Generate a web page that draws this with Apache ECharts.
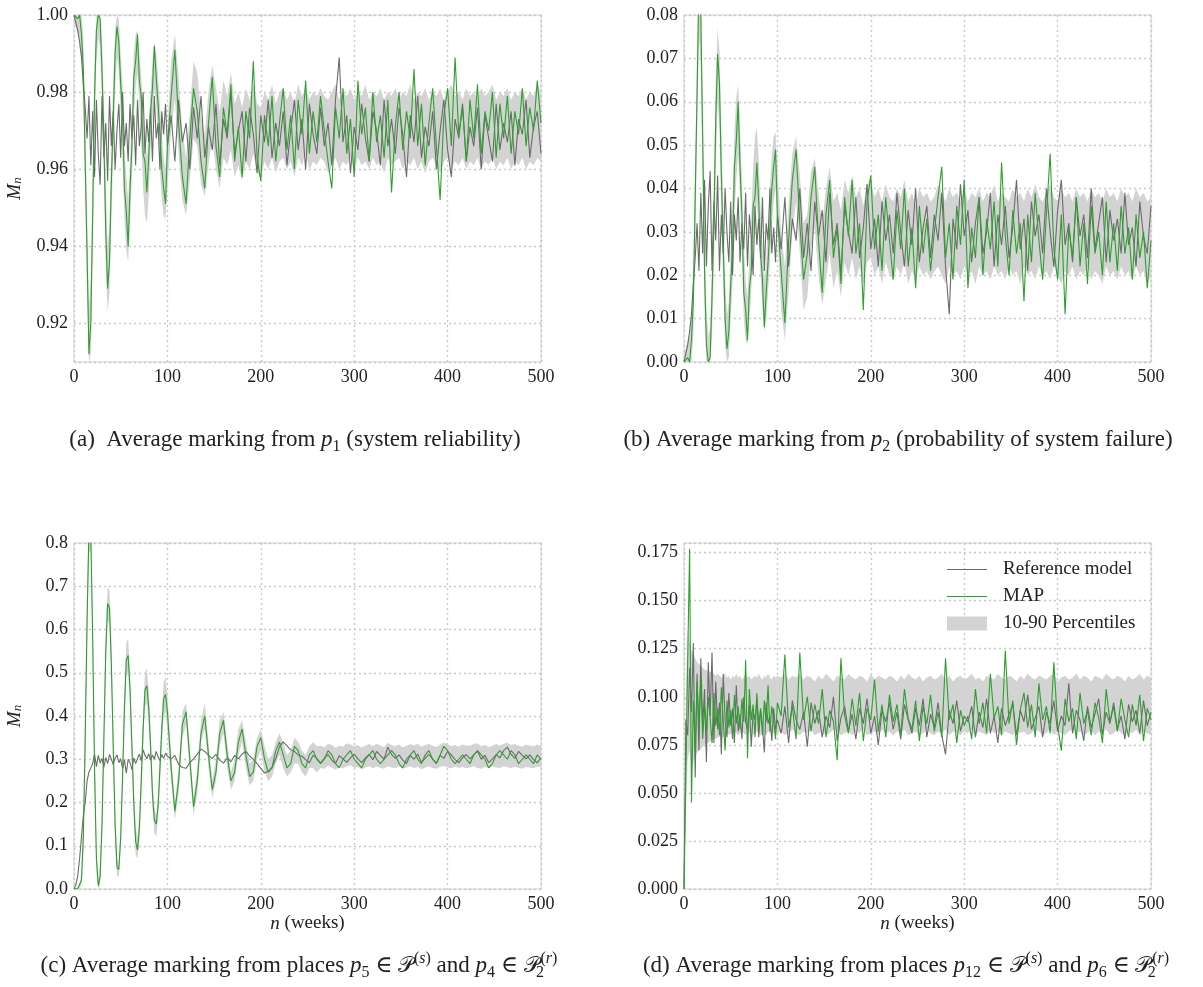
<!DOCTYPE html>
<html>
<head>
<meta charset="utf-8">
<script src="https://cdn.jsdelivr.net/npm/echarts@6/dist/echarts.min.js"></script>
<style>
  html, body { margin: 0; padding: 0; background: #fff; }
  #chart { width: 1203px; height: 987px; }
</style>
</head>
<body>
<div id="chart"></div>
<script>
// sample weeks (finer spacing where the early oscillation is)
var weeks = [
  0, 2, 4, 6, 8, 10, 12, 14, 16, 18,
  20, 22, 24, 26, 28, 30, 32, 34, 36, 38,
  40, 42, 44, 46, 48, 50, 52, 54, 56, 58,
  60, 62, 64, 66, 68, 70, 72, 74, 76, 78,
  80, 82, 84, 86, 88, 90, 92, 94, 96, 98,
  100,
  104, 108, 112, 116, 120, 124, 128, 132, 136, 140,
  144, 148, 152, 156, 160, 164, 168, 172, 176, 180,
  184, 188, 192, 196, 200, 204, 208, 212, 216, 220,
  224, 228, 232, 236, 240, 244, 248, 252, 256, 260,
  264, 268, 272, 276, 280, 284, 288, 292, 296, 300,
  304, 308, 312, 316, 320, 324, 328, 332, 336, 340,
  344, 348, 352, 356, 360, 364, 368, 372, 376, 380,
  384, 388, 392, 396, 400, 404, 408, 412, 416, 420,
  424, 428, 432, 436, 440, 444, 448, 452, 456, 460,
  464, 468, 472, 476, 480, 484, 488, 492, 496, 500
];

// (a) p1, system reliability
var aRef = [
  1.000, 0.998, 0.996, 0.993, 0.989, 0.982, 0.976, 0.968, 0.979, 0.961,
  0.975, 0.958, 0.978, 0.964, 0.956, 0.979, 0.963, 0.972, 0.957, 0.979,
  0.966, 0.975, 0.960, 0.970, 0.977, 0.963, 0.980, 0.966, 0.972, 0.962,
  0.977, 0.968, 0.974, 0.961, 0.978, 0.966, 0.971, 0.980, 0.964, 0.973,
  0.967, 0.976, 0.962, 0.979, 0.968, 0.972, 0.960, 0.975, 0.969, 0.977,
  0.966,
  0.974, 0.962, 0.978, 0.967, 0.972, 0.960, 0.976, 0.968, 0.979, 0.963,
  0.971, 0.965, 0.977, 0.961, 0.973, 0.968, 0.980, 0.964, 0.970, 0.975,
  0.962, 0.976, 0.969, 0.959, 0.974, 0.967, 0.978, 0.963, 0.972, 0.966,
  0.975, 0.961, 0.970, 0.978, 0.965, 0.973, 0.960, 0.977, 0.969, 0.964,
  0.976, 0.966, 0.972, 0.961, 0.978, 0.989, 0.967, 0.974, 0.959, 0.971,
  0.965, 0.977, 0.968, 0.962, 0.975, 0.970, 0.961, 0.978, 0.966, 0.973,
  0.964, 0.976, 0.969, 0.958, 0.974, 0.967, 0.979, 0.963, 0.971, 0.966,
  0.975, 0.960, 0.970, 0.978, 0.965, 0.958, 0.973, 0.968, 0.977, 0.962,
  0.971, 0.966, 0.976, 0.960, 0.974, 0.968, 0.962, 0.977, 0.965, 0.972,
  0.967, 0.975, 0.961, 0.973, 0.969, 0.978, 0.963, 0.971, 0.975, 0.964
];
var aMap = [
  1.000, 1.000, 0.999, 1.000, 0.995, 0.986, 0.962, 0.938, 0.912, 0.920,
  0.948, 0.979, 0.996, 1.000, 0.999, 0.985, 0.968, 0.944, 0.929, 0.936,
  0.957, 0.973, 0.990, 0.997, 0.993, 0.982, 0.974, 0.955, 0.949, 0.940,
  0.955, 0.966, 0.984, 0.988, 0.995, 0.983, 0.979, 0.964, 0.962, 0.954,
  0.963, 0.975, 0.981, 0.992, 0.984, 0.977, 0.969, 0.960, 0.955, 0.951,
  0.966,
  0.979, 0.991, 0.972, 0.958, 0.951, 0.968, 0.981, 0.975, 0.962, 0.955,
  0.972, 0.984, 0.966, 0.958, 0.976, 0.969, 0.982, 0.962, 0.971, 0.958,
  0.975, 0.968, 0.988, 0.963, 0.957, 0.974, 0.966, 0.979, 0.962, 0.972,
  0.981, 0.965, 0.974, 0.960, 0.978, 0.969, 0.983, 0.964, 0.975, 0.967,
  0.979, 0.970, 0.962, 0.955, 0.976, 0.968, 0.981, 0.964, 0.973, 0.958,
  0.983, 0.969, 0.976, 0.962, 0.980, 0.967, 0.974, 0.963, 0.978, 0.954,
  0.971, 0.980, 0.965, 0.975, 0.968, 0.986, 0.966, 0.977, 0.961, 0.972,
  0.981, 0.966, 0.952, 0.974, 0.981, 0.966, 0.989, 0.969, 0.976, 0.962,
  0.978, 0.968, 0.982, 0.964, 0.975, 0.970, 0.980, 0.963, 0.977, 0.968,
  0.979, 0.964, 0.975, 0.969, 0.981, 0.966, 0.976, 0.970, 0.983, 0.972
];
var aLo = [
  0.998, 0.997, 0.995, 0.994, 0.988, 0.977, 0.953, 0.928, 0.910, 0.912,
  0.938, 0.969, 0.988, 0.994, 0.992, 0.977, 0.958, 0.935, 0.923, 0.928,
  0.947, 0.964, 0.981, 0.989, 0.986, 0.974, 0.962, 0.947, 0.939, 0.936,
  0.946, 0.958, 0.973, 0.981, 0.985, 0.976, 0.967, 0.955, 0.948, 0.946,
  0.953, 0.965, 0.973, 0.981, 0.977, 0.968, 0.960, 0.952, 0.948, 0.947,
  0.955,
  0.970, 0.978, 0.964, 0.952, 0.948, 0.957, 0.968, 0.966, 0.956, 0.953,
  0.961, 0.968, 0.960, 0.955, 0.963, 0.961, 0.965, 0.958, 0.961, 0.957,
  0.962, 0.960, 0.964, 0.959, 0.958, 0.962, 0.960, 0.963, 0.959, 0.962,
  0.963, 0.960, 0.962, 0.958, 0.963, 0.961, 0.964, 0.960, 0.962, 0.961,
  0.963, 0.962, 0.959, 0.961, 0.963, 0.960, 0.962, 0.961, 0.963, 0.960,
  0.963, 0.961, 0.962, 0.960, 0.963, 0.961, 0.962, 0.959, 0.963, 0.961,
  0.962, 0.963, 0.960, 0.962, 0.961, 0.963, 0.960, 0.962, 0.959, 0.962,
  0.963, 0.961, 0.959, 0.962, 0.963, 0.960, 0.962, 0.961, 0.963, 0.960,
  0.962, 0.961, 0.963, 0.960, 0.962, 0.961, 0.963, 0.960, 0.962, 0.961,
  0.963, 0.960, 0.962, 0.961, 0.963, 0.960, 0.962, 0.961, 0.963, 0.962
];
var aHi = [
  1.000, 1.000, 1.000, 1.000, 1.000, 0.994, 0.973, 0.948, 0.925, 0.932,
  0.960, 0.988, 1.000, 1.000, 1.000, 0.994, 0.978, 0.956, 0.940, 0.946,
  0.966, 0.983, 0.996, 1.000, 0.999, 0.990, 0.982, 0.966, 0.958, 0.952,
  0.962, 0.975, 0.990, 0.995, 0.996, 0.990, 0.984, 0.974, 0.969, 0.963,
  0.970, 0.980, 0.988, 0.993, 0.990, 0.984, 0.977, 0.969, 0.963, 0.960,
  0.970,
  0.988, 0.995, 0.984, 0.970, 0.963, 0.975, 0.988, 0.985, 0.974, 0.969,
  0.980, 0.987, 0.981, 0.975, 0.983, 0.979, 0.985, 0.977, 0.980, 0.976,
  0.981, 0.978, 0.982, 0.977, 0.976, 0.980, 0.978, 0.982, 0.977, 0.980,
  0.981, 0.978, 0.980, 0.977, 0.982, 0.979, 0.981, 0.978, 0.980, 0.979,
  0.981, 0.979, 0.978, 0.980, 0.982, 0.978, 0.980, 0.979, 0.981, 0.978,
  0.980, 0.979, 0.982, 0.978, 0.980, 0.979, 0.981, 0.978, 0.980, 0.979,
  0.981, 0.978, 0.980, 0.979, 0.982, 0.978, 0.980, 0.979, 0.981, 0.978,
  0.980, 0.979, 0.981, 0.978, 0.980, 0.982, 0.979, 0.980, 0.978, 0.981,
  0.979, 0.980, 0.978, 0.981, 0.979, 0.980, 0.982, 0.978, 0.980, 0.979,
  0.981, 0.978, 0.980, 0.979, 0.981, 0.978, 0.980, 0.979, 0.982, 0.980
];

// (b) p2, probability of system failure
var bRef = [
  0.000, 0.002, 0.004, 0.007, 0.011, 0.018, 0.024, 0.032, 0.021, 0.039,
  0.025, 0.042, 0.022, 0.036, 0.044, 0.021, 0.037, 0.028, 0.043, 0.021,
  0.034, 0.025, 0.040, 0.030, 0.023, 0.037, 0.020, 0.034, 0.028, 0.038,
  0.023, 0.032, 0.026, 0.039, 0.022, 0.034, 0.029, 0.020, 0.036, 0.027,
  0.033, 0.024, 0.038, 0.021, 0.032, 0.028, 0.040, 0.025, 0.031, 0.023,
  0.034,
  0.026, 0.038, 0.022, 0.033, 0.028, 0.040, 0.024, 0.032, 0.021, 0.037,
  0.029, 0.035, 0.023, 0.039, 0.027, 0.032, 0.020, 0.036, 0.030, 0.025,
  0.038, 0.024, 0.031, 0.041, 0.026, 0.033, 0.022, 0.037, 0.028, 0.034,
  0.025, 0.039, 0.030, 0.022, 0.035, 0.027, 0.040, 0.023, 0.031, 0.036,
  0.024, 0.034, 0.028, 0.039, 0.022, 0.011, 0.033, 0.026, 0.041, 0.029,
  0.035, 0.023, 0.032, 0.038, 0.025, 0.030, 0.039, 0.022, 0.034, 0.027,
  0.036, 0.024, 0.031, 0.042, 0.026, 0.033, 0.021, 0.037, 0.029, 0.034,
  0.025, 0.040, 0.030, 0.022, 0.035, 0.042, 0.027, 0.032, 0.023, 0.038,
  0.029, 0.034, 0.024, 0.040, 0.026, 0.032, 0.038, 0.023, 0.035, 0.028,
  0.033, 0.025, 0.039, 0.027, 0.031, 0.022, 0.037, 0.029, 0.025, 0.036
];
var bMap = [
  0.000, 0.000, 0.001, 0.000, 0.005, 0.014, 0.038, 0.062, 0.088, 0.080,
  0.052, 0.021, 0.004, 0.000, 0.001, 0.015, 0.032, 0.056, 0.071, 0.064,
  0.043, 0.027, 0.010, 0.003, 0.007, 0.018, 0.026, 0.045, 0.051, 0.060,
  0.045, 0.034, 0.016, 0.012, 0.005, 0.017, 0.021, 0.036, 0.038, 0.046,
  0.037, 0.025, 0.019, 0.008, 0.016, 0.023, 0.031, 0.040, 0.045, 0.049,
  0.034,
  0.021, 0.009, 0.028, 0.042, 0.049, 0.032, 0.019, 0.025, 0.038, 0.045,
  0.028, 0.016, 0.034, 0.042, 0.024, 0.031, 0.018, 0.038, 0.029, 0.042,
  0.025, 0.032, 0.012, 0.037, 0.043, 0.026, 0.034, 0.021, 0.038, 0.028,
  0.019, 0.035, 0.026, 0.040, 0.022, 0.031, 0.017, 0.036, 0.025, 0.033,
  0.021, 0.030, 0.038, 0.045, 0.024, 0.032, 0.019, 0.036, 0.027, 0.042,
  0.017, 0.031, 0.024, 0.038, 0.020, 0.033, 0.026, 0.037, 0.022, 0.046,
  0.029, 0.020, 0.035, 0.025, 0.032, 0.014, 0.034, 0.023, 0.039, 0.028,
  0.019, 0.034, 0.048, 0.026, 0.019, 0.034, 0.011, 0.031, 0.024, 0.038,
  0.022, 0.032, 0.018, 0.036, 0.025, 0.030, 0.020, 0.037, 0.023, 0.032,
  0.021, 0.036, 0.025, 0.031, 0.019, 0.034, 0.024, 0.030, 0.017, 0.028
];
var bLo = [
  0.000, 0.000, 0.000, 0.000, 0.000, 0.006, 0.027, 0.052, 0.075, 0.068,
  0.040, 0.012, 0.000, 0.000, 0.000, 0.006, 0.022, 0.044, 0.060, 0.054,
  0.034, 0.017, 0.004, 0.000, 0.001, 0.010, 0.018, 0.034, 0.042, 0.048,
  0.038, 0.025, 0.010, 0.005, 0.004, 0.010, 0.016, 0.026, 0.031, 0.037,
  0.030, 0.020, 0.012, 0.007, 0.010, 0.016, 0.023, 0.031, 0.037, 0.040,
  0.030,
  0.012, 0.005, 0.016, 0.030, 0.037, 0.025, 0.012, 0.015, 0.026, 0.031,
  0.020, 0.013, 0.019, 0.025, 0.017, 0.021, 0.015, 0.023, 0.020, 0.024,
  0.019, 0.022, 0.018, 0.023, 0.024, 0.020, 0.022, 0.018, 0.023, 0.020,
  0.019, 0.022, 0.020, 0.023, 0.018, 0.021, 0.019, 0.022, 0.020, 0.021,
  0.019, 0.021, 0.022, 0.020, 0.018, 0.022, 0.020, 0.021, 0.019, 0.022,
  0.020, 0.021, 0.018, 0.022, 0.020, 0.021, 0.019, 0.022, 0.020, 0.021,
  0.019, 0.022, 0.020, 0.021, 0.018, 0.022, 0.020, 0.021, 0.019, 0.022,
  0.020, 0.021, 0.019, 0.022, 0.020, 0.018, 0.021, 0.020, 0.022, 0.019,
  0.021, 0.020, 0.022, 0.019, 0.021, 0.020, 0.018, 0.022, 0.020, 0.021,
  0.019, 0.022, 0.020, 0.021, 0.019, 0.022, 0.020, 0.021, 0.018, 0.020
];
var bHi = [
  0.002, 0.003, 0.005, 0.006, 0.012, 0.023, 0.047, 0.072, 0.090, 0.088,
  0.062, 0.031, 0.012, 0.006, 0.008, 0.023, 0.042, 0.065, 0.077, 0.072,
  0.053, 0.036, 0.019, 0.011, 0.014, 0.026, 0.038, 0.053, 0.061, 0.064,
  0.054, 0.042, 0.027, 0.019, 0.015, 0.024, 0.033, 0.045, 0.052, 0.054,
  0.047, 0.035, 0.027, 0.019, 0.023, 0.032, 0.040, 0.048, 0.052, 0.053,
  0.045,
  0.030, 0.022, 0.036, 0.048, 0.052, 0.043, 0.032, 0.034, 0.044, 0.047,
  0.039, 0.032, 0.040, 0.045, 0.037, 0.039, 0.035, 0.042, 0.039, 0.043,
  0.038, 0.040, 0.036, 0.041, 0.042, 0.038, 0.040, 0.037, 0.041, 0.038,
  0.037, 0.040, 0.038, 0.042, 0.037, 0.039, 0.036, 0.040, 0.038, 0.039,
  0.037, 0.038, 0.041, 0.039, 0.037, 0.040, 0.038, 0.039, 0.037, 0.040,
  0.037, 0.039, 0.038, 0.040, 0.037, 0.039, 0.038, 0.041, 0.037, 0.039,
  0.038, 0.037, 0.040, 0.038, 0.039, 0.037, 0.040, 0.038, 0.041, 0.038,
  0.037, 0.039, 0.041, 0.038, 0.037, 0.040, 0.038, 0.039, 0.037, 0.040,
  0.038, 0.039, 0.037, 0.040, 0.038, 0.039, 0.037, 0.040, 0.038, 0.039,
  0.037, 0.040, 0.038, 0.039, 0.037, 0.040, 0.038, 0.039, 0.037, 0.038
];

// (c) places p5 and p4
var cRef = [
  0.000, 0.010, 0.030, 0.070, 0.120, 0.170, 0.200, 0.250, 0.270, 0.280,
  0.290, 0.312, 0.283, 0.309, 0.291, 0.302, 0.281, 0.304, 0.290, 0.311,
  0.300, 0.288, 0.303, 0.310, 0.292, 0.301, 0.279, 0.298, 0.268, 0.300,
  0.292, 0.276, 0.303, 0.290, 0.301, 0.312, 0.297, 0.322, 0.309, 0.301,
  0.313, 0.298, 0.310, 0.300, 0.318, 0.306, 0.297, 0.311, 0.302, 0.314,
  0.307,
  0.301, 0.309, 0.288, 0.281, 0.279, 0.292, 0.301, 0.312, 0.324, 0.318,
  0.309, 0.302, 0.311, 0.298, 0.291, 0.303, 0.294, 0.309, 0.301, 0.312,
  0.318, 0.308, 0.300, 0.290, 0.279, 0.268, 0.272, 0.281, 0.301, 0.329,
  0.340, 0.331, 0.322, 0.318, 0.310, 0.307, 0.299, 0.292, 0.309, 0.302,
  0.291, 0.302, 0.311, 0.298, 0.290, 0.308, 0.301, 0.293, 0.303, 0.312,
  0.301, 0.292, 0.303, 0.311, 0.299, 0.318, 0.309, 0.300, 0.328, 0.311,
  0.302, 0.310, 0.298, 0.290, 0.309, 0.300, 0.312, 0.293, 0.302, 0.311,
  0.300, 0.291, 0.309, 0.302, 0.318, 0.310, 0.299, 0.292, 0.303, 0.311,
  0.301, 0.310, 0.319, 0.300, 0.309, 0.292, 0.301, 0.311, 0.303, 0.320,
  0.328, 0.311, 0.302, 0.318, 0.309, 0.301, 0.310, 0.299, 0.292, 0.303
];
var cMap = [
  0.000, 0.000, 0.001, 0.003, 0.020, 0.120, 0.350, 0.620, 0.830, 0.820,
  0.580, 0.280, 0.070, 0.008, 0.030, 0.150, 0.350, 0.550, 0.660, 0.650,
  0.520, 0.330, 0.150, 0.050, 0.045, 0.120, 0.260, 0.420, 0.530, 0.540,
  0.460, 0.330, 0.200, 0.110, 0.090, 0.140, 0.250, 0.370, 0.460, 0.470,
  0.420, 0.330, 0.220, 0.160, 0.150, 0.190, 0.280, 0.370, 0.440, 0.450,
  0.410,
  0.280, 0.180, 0.250, 0.380, 0.410, 0.300, 0.190, 0.250, 0.360, 0.400,
  0.310, 0.230, 0.270, 0.360, 0.390, 0.310, 0.250, 0.270, 0.340, 0.370,
  0.310, 0.260, 0.270, 0.330, 0.350, 0.300, 0.270, 0.280, 0.320, 0.340,
  0.310, 0.280, 0.290, 0.330, 0.320, 0.290, 0.280, 0.310, 0.320, 0.300,
  0.290, 0.300, 0.320, 0.310, 0.290, 0.280, 0.300, 0.310, 0.320, 0.300,
  0.290, 0.280, 0.300, 0.310, 0.320, 0.300, 0.290, 0.300, 0.310, 0.320,
  0.310, 0.290, 0.280, 0.300, 0.310, 0.320, 0.300, 0.290, 0.310, 0.320,
  0.300, 0.290, 0.310, 0.330, 0.320, 0.300, 0.290, 0.300, 0.310, 0.300,
  0.290, 0.310, 0.320, 0.310, 0.300, 0.280, 0.290, 0.310, 0.320, 0.310,
  0.300, 0.320, 0.310, 0.290, 0.300, 0.310, 0.300, 0.290, 0.310, 0.300
];
var cLo = [
  0.000, 0.000, 0.000, 0.001, 0.010, 0.080, 0.280, 0.550, 0.780, 0.780,
  0.520, 0.220, 0.040, 0.000, 0.010, 0.110, 0.300, 0.500, 0.620, 0.610,
  0.470, 0.280, 0.110, 0.030, 0.030, 0.090, 0.220, 0.370, 0.490, 0.500,
  0.420, 0.290, 0.160, 0.080, 0.070, 0.110, 0.210, 0.330, 0.420, 0.430,
  0.380, 0.290, 0.190, 0.130, 0.120, 0.160, 0.240, 0.330, 0.400, 0.410,
  0.370,
  0.250, 0.160, 0.220, 0.350, 0.380, 0.270, 0.170, 0.220, 0.340, 0.370,
  0.280, 0.210, 0.250, 0.330, 0.360, 0.280, 0.230, 0.250, 0.310, 0.340,
  0.280, 0.240, 0.250, 0.300, 0.320, 0.270, 0.250, 0.260, 0.290, 0.310,
  0.280, 0.260, 0.270, 0.290, 0.290, 0.270, 0.260, 0.280, 0.280, 0.270,
  0.280, 0.278, 0.285, 0.281, 0.276, 0.282, 0.279, 0.283, 0.286, 0.280,
  0.282, 0.277, 0.281, 0.284, 0.279, 0.283, 0.280, 0.278, 0.284, 0.281,
  0.279, 0.283, 0.278, 0.281, 0.284, 0.280, 0.282, 0.277, 0.281, 0.283,
  0.280, 0.278, 0.282, 0.285, 0.281, 0.279, 0.283, 0.280, 0.282, 0.279,
  0.281, 0.284, 0.280, 0.278, 0.282, 0.279, 0.283, 0.281, 0.280, 0.284,
  0.282, 0.279, 0.283, 0.280, 0.278, 0.282, 0.281, 0.279, 0.283, 0.281
];
var cHi = [
  0.000, 0.001, 0.003, 0.008, 0.040, 0.170, 0.420, 0.690, 0.880, 0.880,
  0.640, 0.340, 0.100, 0.020, 0.060, 0.190, 0.400, 0.600, 0.700, 0.690,
  0.570, 0.380, 0.190, 0.070, 0.060, 0.150, 0.300, 0.460, 0.570, 0.580,
  0.500, 0.370, 0.240, 0.140, 0.120, 0.170, 0.290, 0.410, 0.500, 0.510,
  0.460, 0.370, 0.260, 0.190, 0.170, 0.220, 0.310, 0.410, 0.480, 0.490,
  0.450,
  0.310, 0.200, 0.280, 0.410, 0.430, 0.330, 0.210, 0.280, 0.390, 0.430,
  0.340, 0.250, 0.300, 0.390, 0.410, 0.340, 0.270, 0.300, 0.370, 0.390,
  0.340, 0.290, 0.300, 0.350, 0.370, 0.330, 0.300, 0.310, 0.340, 0.360,
  0.340, 0.310, 0.320, 0.350, 0.340, 0.320, 0.310, 0.330, 0.340, 0.330,
  0.331, 0.328, 0.336, 0.333, 0.326, 0.332, 0.329, 0.337, 0.334, 0.330,
  0.333, 0.327, 0.331, 0.335, 0.330, 0.336, 0.332, 0.328, 0.338, 0.333,
  0.330, 0.334, 0.327, 0.331, 0.335, 0.332, 0.336, 0.329, 0.333, 0.335,
  0.331, 0.328, 0.334, 0.338, 0.335, 0.330, 0.333, 0.329, 0.334, 0.331,
  0.332, 0.335, 0.337, 0.330, 0.333, 0.328, 0.331, 0.335, 0.332, 0.336,
  0.338, 0.333, 0.335, 0.331, 0.329, 0.334, 0.332, 0.330, 0.334, 0.331
];

// (d) places p12 and p6
var dRef = [
  0.000, 0.088, 0.080, 0.115, 0.092, 0.128, 0.058, 0.112, 0.072, 0.120,
  0.085, 0.104, 0.066, 0.118, 0.090, 0.123, 0.076, 0.108, 0.083, 0.097,
  0.070, 0.112, 0.088, 0.079, 0.102, 0.085, 0.094, 0.076, 0.106, 0.082,
  0.091, 0.078, 0.100, 0.087, 0.083, 0.096, 0.074, 0.092, 0.088, 0.099,
  0.079, 0.093, 0.085, 0.071, 0.097, 0.086, 0.090, 0.077, 0.094, 0.083,
  0.088,
  0.081, 0.095, 0.076, 0.098, 0.088, 0.083, 0.092, 0.074, 0.097, 0.086,
  0.093, 0.079, 0.090, 0.084, 0.100, 0.077, 0.089, 0.095, 0.082, 0.091,
  0.078, 0.094, 0.086, 0.099, 0.081, 0.090, 0.075, 0.093, 0.087, 0.097,
  0.083, 0.092, 0.078, 0.096, 0.088, 0.081, 0.094, 0.085, 0.099, 0.079,
  0.091, 0.084, 0.097, 0.080, 0.070, 0.093, 0.086, 0.098, 0.082, 0.090,
  0.087, 0.095, 0.079, 0.092, 0.084, 0.099, 0.081, 0.090, 0.076, 0.094,
  0.085, 0.091, 0.096, 0.080, 0.093, 0.087, 0.101, 0.083, 0.089, 0.095,
  0.079, 0.092, 0.086, 0.098, 0.082, 0.090, 0.085, 0.107, 0.081, 0.093,
  0.088, 0.077, 0.095, 0.084, 0.091, 0.099, 0.080, 0.092, 0.086, 0.097,
  0.083, 0.090, 0.078, 0.096, 0.087, 0.093, 0.081, 0.098, 0.085, 0.092
];
var dMap = [
  0.000, 0.060, 0.120, 0.177, 0.045, 0.098, 0.072, 0.108, 0.085, 0.110,
  0.078, 0.095, 0.082, 0.100, 0.089, 0.076, 0.102, 0.085, 0.094, 0.080,
  0.105, 0.088, 0.072, 0.098, 0.084, 0.093, 0.078, 0.101, 0.086, 0.095,
  0.083, 0.099, 0.087, 0.119, 0.068, 0.104, 0.088, 0.096, 0.079, 0.102,
  0.085, 0.094, 0.080, 0.098, 0.087, 0.106, 0.082, 0.095, 0.088, 0.078,
  0.097,
  0.090, 0.122, 0.084, 0.095, 0.078, 0.123, 0.088, 0.100, 0.082, 0.096,
  0.086, 0.104, 0.079, 0.093, 0.087, 0.067, 0.120, 0.090, 0.081, 0.099,
  0.085, 0.102, 0.077, 0.094, 0.088, 0.109, 0.082, 0.096, 0.079, 0.101,
  0.087, 0.096, 0.080, 0.104, 0.089, 0.083, 0.098, 0.077, 0.095, 0.086,
  0.101, 0.082, 0.092, 0.079, 0.120, 0.088, 0.096, 0.076, 0.093, 0.085,
  0.090, 0.078, 0.104, 0.086, 0.097, 0.081, 0.112, 0.089, 0.095, 0.080,
  0.124, 0.086, 0.098, 0.075, 0.093, 0.102, 0.084, 0.096, 0.079, 0.107,
  0.088, 0.095, 0.081, 0.118, 0.085, 0.072, 0.099, 0.087, 0.094, 0.078,
  0.102, 0.086, 0.093, 0.080, 0.097, 0.089, 0.076, 0.104, 0.087, 0.095,
  0.082, 0.099, 0.088, 0.079, 0.096, 0.085, 0.101, 0.077, 0.094, 0.088
];
var dLo = [
  0.000, 0.040, 0.068, 0.072, 0.064, 0.066, 0.069, 0.071, 0.072, 0.073,
  0.074, 0.075, 0.076, 0.076, 0.077, 0.077, 0.078, 0.078, 0.079, 0.079,
  0.080, 0.079, 0.080, 0.081, 0.080, 0.081, 0.080, 0.082, 0.081, 0.080,
  0.081, 0.082, 0.081, 0.080, 0.082, 0.081, 0.082, 0.080, 0.081, 0.082,
  0.081, 0.080, 0.082, 0.081, 0.080, 0.082, 0.081, 0.083, 0.081, 0.082,
  0.081,
  0.082, 0.080, 0.081, 0.083, 0.081, 0.080, 0.082, 0.081, 0.083, 0.080,
  0.081, 0.082, 0.080, 0.081, 0.083, 0.082, 0.080, 0.081, 0.082, 0.080,
  0.082, 0.081, 0.083, 0.080, 0.081, 0.082, 0.080, 0.083, 0.081, 0.082,
  0.080, 0.082, 0.081, 0.083, 0.080, 0.081, 0.082, 0.080, 0.081, 0.083,
  0.081, 0.080, 0.082, 0.081, 0.083, 0.080, 0.082, 0.081, 0.080, 0.082,
  0.081, 0.083, 0.080, 0.082, 0.081, 0.080, 0.083, 0.081, 0.082, 0.080,
  0.082, 0.081, 0.080, 0.083, 0.081, 0.082, 0.080, 0.081, 0.083, 0.082,
  0.080, 0.081, 0.083, 0.080, 0.082, 0.081, 0.080, 0.082, 0.083, 0.081,
  0.082, 0.080, 0.081, 0.083, 0.080, 0.082, 0.081, 0.083, 0.080, 0.081,
  0.083, 0.081, 0.080, 0.082, 0.081, 0.083, 0.080, 0.082, 0.081, 0.080
];
var dHi = [
  0.000, 0.100, 0.135, 0.128, 0.124, 0.122, 0.120, 0.118, 0.117, 0.116,
  0.115, 0.114, 0.114, 0.113, 0.113, 0.112, 0.112, 0.111, 0.112, 0.111,
  0.110, 0.111, 0.112, 0.110, 0.111, 0.109, 0.111, 0.110, 0.112, 0.110,
  0.111, 0.109, 0.110, 0.112, 0.110, 0.111, 0.109, 0.110, 0.111, 0.110,
  0.112, 0.110, 0.109, 0.111, 0.110, 0.112, 0.110, 0.109, 0.111, 0.110,
  0.111,
  0.110, 0.112, 0.109, 0.111, 0.110, 0.112, 0.109, 0.111, 0.110, 0.108,
  0.111, 0.109, 0.112, 0.110, 0.108, 0.111, 0.110, 0.109, 0.112, 0.110,
  0.109, 0.111, 0.110, 0.108, 0.112, 0.109, 0.111, 0.110, 0.109, 0.111,
  0.110, 0.108, 0.111, 0.109, 0.112, 0.110, 0.109, 0.111, 0.108, 0.110,
  0.111, 0.109, 0.110, 0.112, 0.109, 0.111, 0.108, 0.110, 0.111, 0.109,
  0.110, 0.112, 0.109, 0.110, 0.108, 0.111, 0.110, 0.109, 0.112, 0.110,
  0.109, 0.111, 0.110, 0.108, 0.111, 0.109, 0.112, 0.110, 0.109, 0.111,
  0.110, 0.109, 0.111, 0.112, 0.108, 0.110, 0.111, 0.109, 0.110, 0.112,
  0.109, 0.111, 0.110, 0.108, 0.111, 0.110, 0.109, 0.112, 0.110, 0.109,
  0.111, 0.110, 0.108, 0.111, 0.109, 0.110, 0.112, 0.109, 0.111, 0.110
];

var SERIF = '"Liberation Serif", "DejaVu Serif", serif';
var GRAY = '#6b6b6b';
var GREEN = '#2ca02c';
var BAND = '#d3d3d3';
var LINE_ICON = 'path://M0,0H40V1.2H0Z';

var panels = [
  { ref: aRef, map: aMap, lo: aLo, hi: aHi, min: 0.91, max: 1.0, interval: null, digits: 2 },
  { ref: bRef, map: bMap, lo: bLo, hi: bHi, min: 0, max: 0.08, interval: 0.01, digits: 2 },
  { ref: cRef, map: cMap, lo: cLo, hi: cHi, min: 0, max: 0.8, interval: 0.1, digits: 1 },
  { ref: dRef, map: dMap, lo: dLo, hi: dHi, min: 0, max: 0.18, interval: 0.025, digits: 3 }
];

var grids = [
  { left: 74, top: 15, width: 467, height: 347 },
  { left: 684, top: 15, width: 467, height: 347 },
  { left: 74, top: 543, width: 467, height: 346 },
  { left: 684, top: 543, width: 467, height: 346 }
];

function pairs(vals) {
  return weeks.map(function (w, i) { return [w, vals[i]]; });
}

var dotted = { show: true, lineStyle: { color: '#c8c8c8', width: 1.4, type: [2, 3] } };
var rich = {
  i: { fontFamily: SERIF, fontStyle: 'italic', fontSize: 19, color: '#222' },
  s: { fontFamily: SERIF, fontStyle: 'italic', fontSize: 13, color: '#222', verticalAlign: 'bottom', lineHeight: 13 }
};

var xAxes = [], yAxes = [], series = [];
panels.forEach(function (p, k) {
  xAxes.push({
    type: 'value', gridIndex: k, min: 0, max: 500, interval: 100,
    axisLine: { show: false }, axisTick: { show: false },
    axisLabel: { fontFamily: SERIF, fontSize: 18, color: '#222', margin: 6 },
    splitLine: dotted,
    name: k >= 2 ? '{i|n} (weeks)' : '',
    nameLocation: 'middle', nameGap: 25,
    nameTextStyle: { fontFamily: SERIF, fontSize: 19, color: '#222', rich: rich }
  });
  var y = {
    type: 'value', gridIndex: k, min: p.min, max: p.max,
    axisLine: { show: false }, axisTick: { show: false },
    axisLabel: {
      fontFamily: SERIF, fontSize: 18, color: '#222', margin: 6,
      showMinLabel: k !== 0, showMaxLabel: k !== 3,
      formatter: function (v) { return v.toFixed(p.digits); }
    },
    splitLine: dotted,
    name: (k === 0 || k === 2) ? '{i|M}{s|n}' : '',
    nameLocation: 'middle', nameGap: 50, nameRotate: 90,
    nameTextStyle: { fontFamily: SERIF, fontSize: 19, color: '#222', rich: rich }
  };
  if (p.interval) y.interval = p.interval;
  yAxes.push(y);

  series.push({
    type: 'custom', name: '10-90 Percentiles', xAxisIndex: k, yAxisIndex: k,
    silent: true, z: 1, itemStyle: { color: BAND },
    data: [[weeks[0], p.lo[0]]],
    renderItem: function (params, api) {
      var top = [], bottom = [];
      for (var i = 0; i < weeks.length; i++) {
        top.push(api.coord([weeks[i], p.hi[i]]));
        bottom.push(api.coord([weeks[i], p.lo[i]]));
      }
      var cs = params.coordSys;
      return {
        type: 'polygon',
        shape: { points: top.concat(bottom.reverse()) },
        style: { fill: BAND },
        clipPath: { type: 'rect', shape: { x: cs.x, y: cs.y, width: cs.width, height: cs.height } }
      };
    }
  });
  series.push({
    type: 'line', name: 'Reference model', xAxisIndex: k, yAxisIndex: k,
    data: pairs(p.ref), showSymbol: false, symbol: 'none', z: 2,
    itemStyle: { color: GRAY }, lineStyle: { color: GRAY, width: 1.1 }
  });
  series.push({
    type: 'line', name: 'MAP', xAxisIndex: k, yAxisIndex: k,
    data: pairs(p.map), showSymbol: false, symbol: 'none', z: 3,
    itemStyle: { color: GREEN }, lineStyle: { color: GREEN, width: 1.1 }
  });
});

// captions under each panel
var capRich = {
  i: { fontFamily: SERIF, fontStyle: 'italic', fontSize: 23, color: '#222', lineHeight: 30 },
  sub: { fontFamily: SERIF, fontSize: 16, color: '#222', verticalAlign: 'bottom', lineHeight: 16 },
  subz: { fontFamily: SERIF, fontSize: 16, color: '#222', verticalAlign: 'bottom', lineHeight: 16, width: 1 },
  sup: { fontFamily: SERIF, fontSize: 16, color: '#222', verticalAlign: 'top', lineHeight: 16 },
  supi: { fontFamily: SERIF, fontStyle: 'italic', fontSize: 16, color: '#222', verticalAlign: 'top', lineHeight: 16 },
  cal: { fontFamily: '"DejaVu Sans", "Noto Sans", serif', fontSize: 22, color: '#222', lineHeight: 30 }
};
function caption(x, y, text) {
  return {
    type: 'text', x: x, y: y, silent: true,
    style: {
      text: text, rich: capRich, fill: '#222',
      font: '23px ' + SERIF, fontFamily: SERIF, fontSize: 23, lineHeight: 30,
      align: 'center', verticalAlign: 'middle', textAlign: 'center', textVerticalAlign: 'middle'
    }
  };
}

var option = {
  backgroundColor: '#fff',
  animation: false,
  grid: grids.map(function (g) {
    return { left: g.left, top: g.top, width: g.width, height: g.height, show: true,
      borderColor: '#d0d0d0', borderWidth: 1, backgroundColor: 'transparent' };
  }),
  xAxis: xAxes,
  yAxis: yAxes,
  legend: {
    orient: 'vertical', left: 942, top: 555, itemWidth: 40, itemHeight: 14, itemGap: 8,
    selectedMode: false,
    textStyle: { fontFamily: SERIF, fontSize: 19, color: '#222', padding: [0, 0, 0, 11] },
    data: [
      { name: 'Reference model', icon: LINE_ICON },
      { name: 'MAP', icon: LINE_ICON },
      { name: '10-90 Percentiles', icon: 'rect' }
    ]
  },
  graphic: [
    caption(295, 440, '(a)  Average marking from {i|p}{sub|1} (system reliability)'),
    caption(898, 440, '(b) Average marking from {i|p}{sub|2} (probability of system failure)'),
    caption(299, 966, '(c) Average marking from places {i|p}{sub|5} \u2208 {cal|\uD835\uDCAB}{sup|(}{supi|s}{sup|)} and {i|p}{sub|4} \u2208 {cal|\uD835\uDCAB}{subz|2}{sup|(}{supi|r}{sup|)}'),
    caption(906, 966, '(d) Average marking from places {i|p}{sub|12} \u2208 {cal|\uD835\uDCAB}{sup|(}{supi|s}{sup|)} and {i|p}{sub|6} \u2208 {cal|\uD835\uDCAB}{subz|2}{sup|(}{supi|r}{sup|)}')
  ],
  series: series
};

var chart = echarts.init(document.getElementById('chart'), null, { renderer: 'canvas' });
chart.setOption(option);
</script>
</body>
</html>
